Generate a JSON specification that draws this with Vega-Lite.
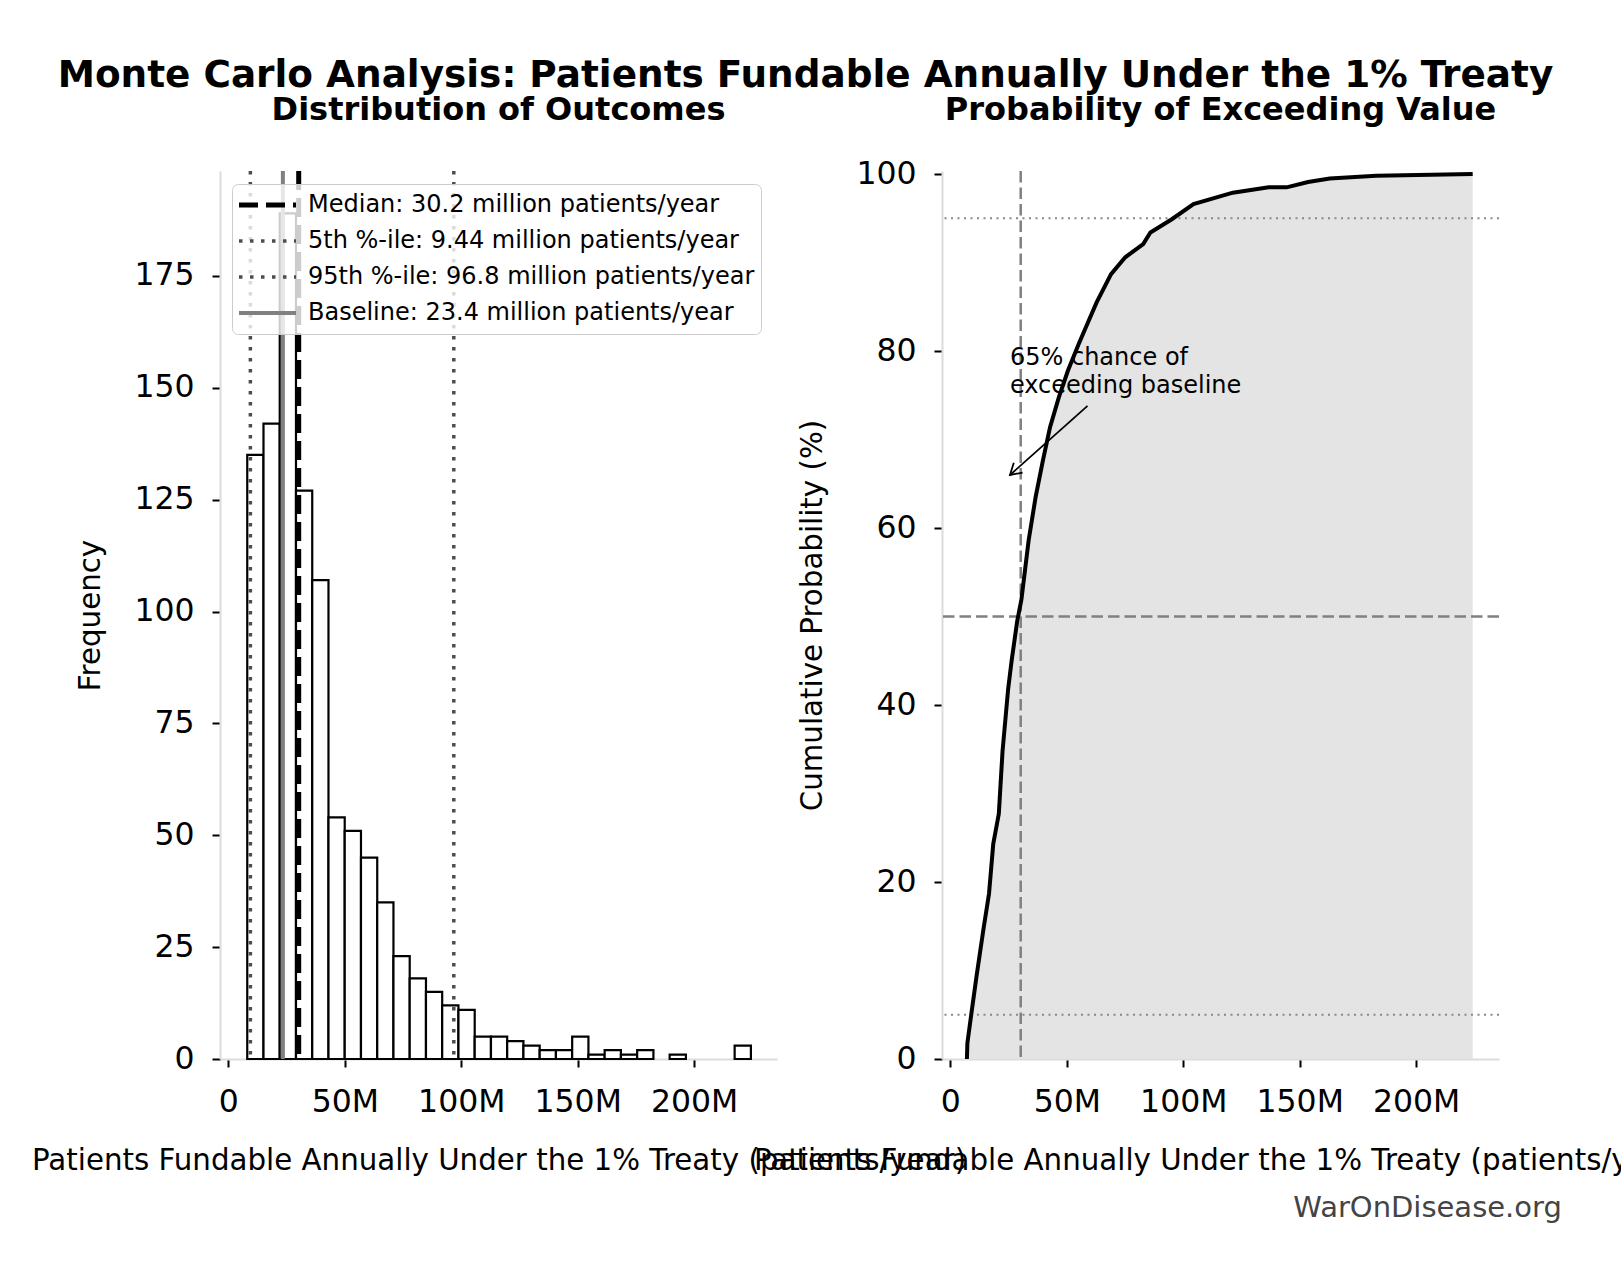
{
  "$schema": "https://vega.github.io/schema/vega-lite/v6.json",
  "autosize": {"type": "none"},
  "padding": {"left": 220, "top": 171, "right": 1401, "bottom": 221},
  "background": "white",
  "config": {
    "font": "DejaVu Sans",
    "view": {"stroke": null},
    "axis": {
      "grid": false,
      "domainColor": "#dcdcdc",
      "domainWidth": 2,
      "tickColor": "#000000",
      "tickWidth": 2,
      "tickSize": 8,
      "labelFont": "DejaVu Sans",
      "labelFontSize": 31.5,
      "labelColor": "#000000",
      "labelPadding": 18,
      "titleFont": "DejaVu Sans",
      "titleFontSize": 29.3,
      "titleFontWeight": "normal",
      "titleColor": "#000000",
      "titleLimit": 2000
    },
    "axisX": {"labelPadding": 19, "titlePadding": 29},
    "axisY": {"titlePadding": 28}
  },
  "title": {
    "text": "Monte Carlo Analysis: Patients Fundable Annually Under the 1% Treaty",
    "font": "DejaVu Sans",
    "fontSize": 37.4,
    "fontWeight": "bold",
    "color": "#000000",
    "anchor": "middle",
    "dx": -54,
    "offset": -1
  },
  "datasets": {
    "hist": [
      {"bin_start": 8.10, "bin_end": 15.08, "count": 135},
      {"bin_start": 15.08, "bin_end": 22.05, "count": 142},
      {"bin_start": 22.05, "bin_end": 29.03, "count": 189},
      {"bin_start": 29.03, "bin_end": 36.01, "count": 127},
      {"bin_start": 36.01, "bin_end": 42.99, "count": 107},
      {"bin_start": 42.99, "bin_end": 49.96, "count": 54},
      {"bin_start": 49.96, "bin_end": 56.94, "count": 51},
      {"bin_start": 56.94, "bin_end": 63.92, "count": 45},
      {"bin_start": 63.92, "bin_end": 70.89, "count": 35},
      {"bin_start": 70.89, "bin_end": 77.87, "count": 23},
      {"bin_start": 77.87, "bin_end": 84.85, "count": 18},
      {"bin_start": 84.85, "bin_end": 91.82, "count": 15},
      {"bin_start": 91.82, "bin_end": 98.80, "count": 12},
      {"bin_start": 98.80, "bin_end": 105.78, "count": 11},
      {"bin_start": 105.78, "bin_end": 112.76, "count": 5},
      {"bin_start": 112.76, "bin_end": 119.73, "count": 5},
      {"bin_start": 119.73, "bin_end": 126.71, "count": 4},
      {"bin_start": 126.71, "bin_end": 133.69, "count": 3},
      {"bin_start": 133.69, "bin_end": 140.66, "count": 2},
      {"bin_start": 140.66, "bin_end": 147.64, "count": 2},
      {"bin_start": 147.64, "bin_end": 154.62, "count": 5},
      {"bin_start": 154.62, "bin_end": 161.59, "count": 1},
      {"bin_start": 161.59, "bin_end": 168.57, "count": 2},
      {"bin_start": 168.57, "bin_end": 175.55, "count": 1},
      {"bin_start": 175.55, "bin_end": 182.53, "count": 2},
      {"bin_start": 189.50, "bin_end": 196.48, "count": 1},
      {"bin_start": 217.41, "bin_end": 224.39, "count": 3}
    ],
    "stats": [
      {"stat": "Median: 30.2 million patients/year", "value": 30.2},
      {"stat": "5th %-ile: 9.44 million patients/year", "value": 9.44},
      {"stat": "95th %-ile: 96.8 million patients/year", "value": 96.8},
      {"stat": "Baseline: 23.4 million patients/year", "value": 23.4}
    ],
    "cdf": [
      {"value": 7.1, "pct": 0},
      {"value": 7.3, "pct": 1.8},
      {"value": 9.0, "pct": 5.1},
      {"value": 11.2, "pct": 9.3},
      {"value": 14.1, "pct": 14.5},
      {"value": 16.6, "pct": 18.7},
      {"value": 18.4, "pct": 24.3},
      {"value": 20.8, "pct": 27.7},
      {"value": 22.4, "pct": 34.8},
      {"value": 24.8, "pct": 41.8},
      {"value": 26.3, "pct": 45.0},
      {"value": 28.7, "pct": 49.5},
      {"value": 30.5, "pct": 51.9},
      {"value": 33.6, "pct": 58.6},
      {"value": 36.6, "pct": 63.5},
      {"value": 39.7, "pct": 67.6},
      {"value": 42.8, "pct": 71.4},
      {"value": 46.6, "pct": 74.8},
      {"value": 50.5, "pct": 77.8},
      {"value": 55.1, "pct": 80.8},
      {"value": 58.2, "pct": 82.7},
      {"value": 62.8, "pct": 85.5},
      {"value": 69.0, "pct": 88.7},
      {"value": 75.1, "pct": 90.6},
      {"value": 82.8, "pct": 92.1},
      {"value": 85.9, "pct": 93.4},
      {"value": 95.1, "pct": 94.9},
      {"value": 104.4, "pct": 96.6},
      {"value": 121.3, "pct": 97.9},
      {"value": 136.7, "pct": 98.5},
      {"value": 144.4, "pct": 98.5},
      {"value": 153.6, "pct": 99.1},
      {"value": 162.9, "pct": 99.5},
      {"value": 182.9, "pct": 99.8},
      {"value": 224.3, "pct": 100}
    ],
    "refs": [
      {"pct": 5, "line": "dotted"},
      {"pct": 95, "line": "dotted"},
      {"pct": 50, "line": "dashed"}
    ],
    "note": [
      {"x": 58.9, "y": 73.8, "x_head": 25.6, "y_head": 66.0, "tx": 25.6, "ty": 78.4, "label": ["65% chance of", "exceeding baseline"]}
    ],
    "credit": [
      {"x": 262.6, "y": -17.8, "label": "WarOnDisease.org"}
    ]
  },
  "bounds": "flush",
  "spacing": 165,
  "hconcat": [
    {
      "width": 557,
      "height": 888,
      "title": {"text": "Distribution of Outcomes", "fontSize": 32, "fontWeight": "bold", "color": "#000000", "anchor": "middle", "baseline": "alphabetic", "offset": 17},
      "layer": [
        {
          "data": {"name": "hist"},
          "mark": {"type": "rect", "fill": "white", "stroke": "black", "strokeWidth": 2.2},
          "encoding": {
            "x": {
              "field": "bin_start", "type": "quantitative",
              "scale": {"domain": [-3.6, 235.6], "nice": false, "zero": false},
              "axis": {"values": [0, 50, 100, 150, 200], "labelExpr": "datum.value == 0 ? '0' : datum.value + 'M'", "title": "Patients Fundable Annually Under the 1% Treaty (patients/year)"}
            },
            "x2": {"field": "bin_end"},
            "y": {
              "field": "count", "type": "quantitative",
              "scale": {"domain": [0, 198.45], "nice": false},
              "axis": {"values": [0, 25, 50, 75, 100, 125, 150, 175], "title": "Frequency"}
            },
            "y2": {"datum": 0}
          }
        },
        {
          "data": {"name": "stats"},
          "mark": {"type": "rule"},
          "encoding": {
            "x": {"field": "value", "type": "quantitative"},
            "color": {
              "field": "stat", "type": "nominal",
              "scale": {
                "domain": ["Median: 30.2 million patients/year", "5th %-ile: 9.44 million patients/year", "95th %-ile: 96.8 million patients/year", "Baseline: 23.4 million patients/year"],
                "range": ["#000000", "#4d4d4d", "#4d4d4d", "#808080"]
              },
              "legend": {
                "title": null,
                "orient": "none",
                "legendX": 12,
                "legendY": 13,
                "symbolType": "stroke",
                "symbolSize": 3250,
                "symbolOffset": -2,
                "clipHeight": 30,
                "labelFontSize": 24,
                "labelFont": "DejaVu Sans",
                "labelColor": "#000000",
                "labelLimit": 1000,
                "labelOffset": 9,
                "rowPadding": 6,
                "padding": 6,
                "fillColor": "rgba(255,255,255,0.8)",
                "strokeColor": "#cccccc",
                "cornerRadius": 6
              }
            },
            "strokeDash": {
              "field": "stat", "type": "nominal",
              "scale": {
                "domain": ["Median: 30.2 million patients/year", "5th %-ile: 9.44 million patients/year", "95th %-ile: 96.8 million patients/year", "Baseline: 23.4 million patients/year"],
                "range": [[19, 8], [3.5, 7.5], [3.5, 7.5], [1, 0]]
              }
            },
            "strokeWidth": {
              "field": "stat", "type": "nominal",
              "scale": {
                "type": "ordinal",
                "domain": ["Median: 30.2 million patients/year", "5th %-ile: 9.44 million patients/year", "95th %-ile: 96.8 million patients/year", "Baseline: 23.4 million patients/year"],
                "range": [5, 3.5, 3.5, 4]
              }
            }
          }
        }
      ]
    },
    {
      "width": 557,
      "height": 888,
      "title": {"text": "Probability of Exceeding Value", "fontSize": 32, "fontWeight": "bold", "color": "#000000", "anchor": "middle", "baseline": "alphabetic", "offset": 6},
      "layer": [
        {
          "data": {"name": "cdf"},
          "mark": {"type": "area", "color": "#e4e4e4"},
          "encoding": {
            "x": {
              "field": "value", "type": "quantitative",
              "scale": {"domain": [-3.6, 235.6], "nice": false, "zero": false},
              "axis": {"values": [0, 50, 100, 150, 200], "labelExpr": "datum.value == 0 ? '0' : datum.value + 'M'", "title": "Patients Fundable Annually Under the 1% Treaty (patients/year)"}
            },
            "y": {
              "field": "pct", "type": "quantitative",
              "scale": {"domain": [0, 100.35], "nice": false},
              "axis": {"values": [0, 20, 40, 60, 80, 100], "title": "Cumulative Probability (%)"}
            }
          }
        },
        {
          "data": {"name": "refs"},
          "transform": [{"filter": "datum.line == 'dotted'"}],
          "mark": {"type": "rule", "stroke": "#888888", "strokeWidth": 2, "strokeDash": [2, 4.5]},
          "encoding": {"y": {"field": "pct", "type": "quantitative"}}
        },
        {
          "data": {"name": "refs"},
          "transform": [{"filter": "datum.line == 'dashed'"}],
          "mark": {"type": "rule", "stroke": "#808080", "strokeWidth": 2.5, "strokeDash": [11.5, 5]},
          "encoding": {"y": {"field": "pct", "type": "quantitative"}}
        },
        {
          "data": {"name": "stats"},
          "transform": [{"filter": "indexof(datum.stat, 'Median') == 0"}],
          "mark": {"type": "rule", "stroke": "#808080", "strokeWidth": 2.5, "strokeDash": [11.5, 5]},
          "encoding": {"x": {"field": "value", "type": "quantitative"}}
        },
        {
          "data": {"name": "cdf"},
          "mark": {"type": "line", "color": "#000000", "strokeWidth": 4},
          "encoding": {
            "x": {"field": "value", "type": "quantitative"},
            "y": {"field": "pct", "type": "quantitative"}
          }
        },
        {
          "data": {"name": "note"},
          "mark": {"type": "rule", "color": "#000000", "strokeWidth": 1.8},
          "encoding": {
            "x": {"field": "x", "type": "quantitative"},
            "y": {"field": "y", "type": "quantitative"},
            "x2": {"field": "x_head"},
            "y2": {"field": "y_head"}
          }
        },
        {
          "data": {"name": "note"},
          "mark": {"type": "point", "shape": "M-1,-0.6L0,0L-1,0.6", "filled": false, "stroke": "#000000", "strokeWidth": 1.8, "size": 484, "angle": 138, "opacity": 1},
          "encoding": {
            "x": {"field": "x_head", "type": "quantitative"},
            "y": {"field": "y_head", "type": "quantitative"}
          }
        },
        {
          "data": {"name": "note"},
          "mark": {"type": "text", "align": "left", "baseline": "alphabetic", "fontSize": 24, "lineHeight": 27.5, "color": "#000000"},
          "encoding": {
            "x": {"field": "tx", "type": "quantitative"},
            "y": {"field": "ty", "type": "quantitative"},
            "text": {"field": "label"}
          }
        },
        {
          "data": {"name": "credit"},
          "mark": {"type": "text", "align": "right", "baseline": "alphabetic", "fontSize": 29, "color": "#444444"},
          "encoding": {
            "x": {"field": "x", "type": "quantitative"},
            "y": {"field": "y", "type": "quantitative"},
            "text": {"field": "label"}
          }
        }
      ]
    }
  ]
}
